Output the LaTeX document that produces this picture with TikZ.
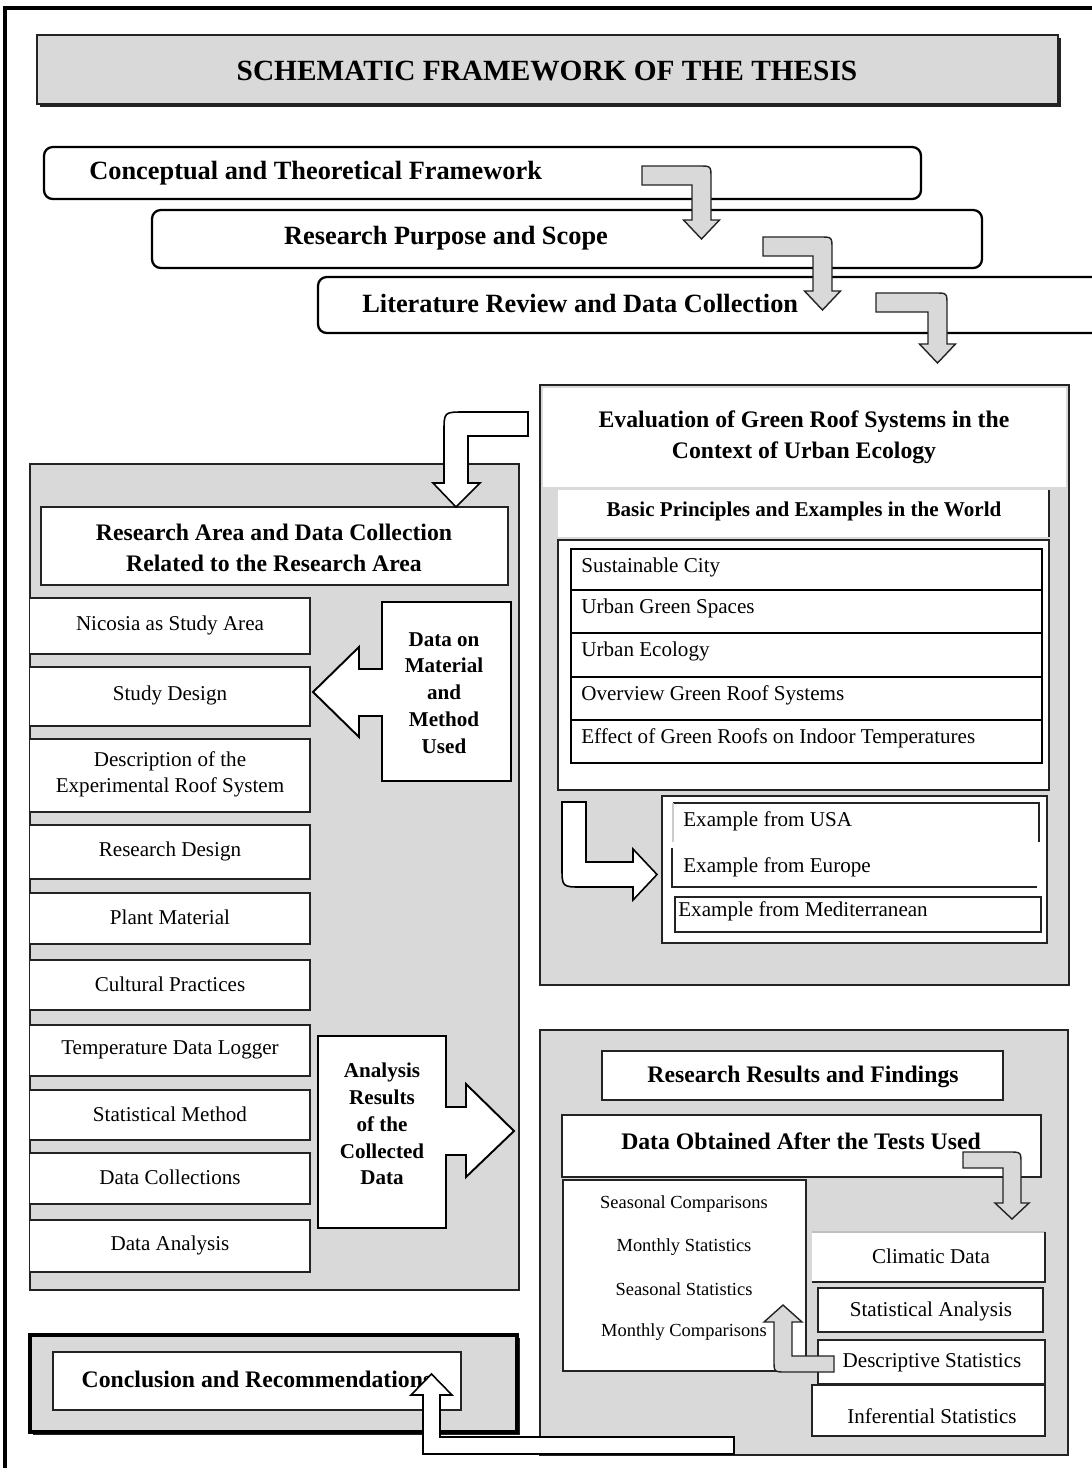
\documentclass[tikz,border=0pt]{standalone}
\usepackage{fontspec}
\setmainfont{Liberation Serif}
\definecolor{panelgray}{RGB}{217,217,217}
\definecolor{edge}{RGB}{35,35,35}

\begin{document}
\begin{tikzpicture}[x=0.02cm, y=-0.02cm,
        panel/.style={draw=edge, line width=1pt, fill=panelgray},
        wbox/.style={draw=edge, line width=0.8pt, fill=white},
        rowbox/.style={draw=black, line width=1.3pt, fill=white},
        headfont/.style={font=\fontsize{15}{18}\selectfont\bfseries, inner sep=0pt},
        subhead/.style={font=\fontsize{13.5}{17.5}\selectfont\bfseries, align=center, inner sep=0pt},
        callout/.style={font=\fontsize{12}{15.3}\selectfont\bfseries, align=center, inner sep=0pt},
        item/.style={font=\fontsize{12}{14.7}\selectfont, align=center, inner sep=0pt},
        small/.style={font=\fontsize{10.5}{12}\selectfont, inner sep=0pt},
        grayarrow/.style={draw=edge, line width=0.8pt, fill=panelgray},
        whitearrow/.style={draw=black, line width=0.9pt, fill=white}]

        \useasboundingbox (0,0) rectangle (1092,1468);
        \fill[white] (0,0) rectangle (1092,1468);
        \draw[line width=2.6pt] (5,8) rectangle (1130,1500);

        % title
        \fill[edge] (40,38) rectangle (1061,107);
        \draw[draw=edge, line width=1.3pt, fill=panelgray] (37,35) rectangle (1058,104);
        \node[font=\fontsize{16.7}{20}\selectfont\bfseries] (title) at (547,71) {SCHEMATIC FRAMEWORK OF THE THESIS};

        % stepped headings
        \draw[line width=1.3pt, rounded corners=5pt, fill=white] (44,147) rectangle (921,199);
        \node[headfont, anchor=west] (concept) at (89,173) {Conceptual and Theoretical Framework};
        \draw[line width=1.3pt, rounded corners=5pt, fill=white] (152,210) rectangle (982,268);
        \node[headfont] (purpose) at (446,238) {Research Purpose and Scope};
        \draw[line width=1.3pt, rounded corners=5pt, fill=white] (318,277) rectangle (1140,333);
        \node[headfont, anchor=west] (review) at (362,304) {Literature Review and Data Collection};

        \foreach \xa/\ya/\xr/\yt in {642/166/711/239, 763/237/832/310, 876/293/947/363} {
            \draw[grayarrow] (\xa,\ya) -- ({\xr-12},\ya) .. controls (\xr,\ya) .. (\xr,{\ya+12})
                -- (\xr,{\yt-19}) -- ({\xr+8.5},{\yt-19}) -- ({\xr-9.5},\yt) -- ({\xr-27.5},{\yt-19})
                -- ({\xr-19},{\yt-19}) -- ({\xr-19},{\ya+19}) -- (\xa,{\ya+19}) -- cycle;
        }

        % left panel
        \draw[panel] (30,464) rectangle (519,1290);
        \draw[wbox] (41,507) rectangle (508,585);
        \node[subhead] (area) at (274,548) {Research Area and Data Collection\\Related to the Research Area};
        \draw[whitearrow] (528,412) -- (464,412) .. controls (444,412) .. (444,432) -- (444,483)
            -- (433,483) -- (456,507) -- (480,483) -- (468,483) -- (468,436) -- (528,436) -- cycle;

        \foreach \name/\ya/\yb/\txt in {nicosia/598/654/{Nicosia as Study Area},
                studydesign/667/726/{Study Design},
                roofsystem/739/812/{Description of the\\Experimental Roof System},
                researchdesign/825/879/{Research Design},
                plants/893/944/{Plant Material},
                cultural/960/1010/{Cultural Practices},
                logger/1025/1076/{Temperature Data Logger},
                statmethod/1090/1140/{Statistical Method},
                collections/1153/1204/{Data Collections},
                dataanalysis/1220/1272/{Data Analysis}} {
            \fill[white] (30,\ya) rectangle (310,\yb);
            \draw[edge, line width=0.8pt] (30,\ya) -- (310,\ya) -- (310,\yb) -- (30,\yb);
            \node[item] (\name) at (170,{(\ya+\yb)/2-1}) {\txt};
        }

        \draw[whitearrow, line width=1.1pt] (511,602) -- (511,781) -- (382,781) -- (382,716) -- (359,716)
            -- (359,737) -- (313,692) -- (359,647) -- (359,669) -- (382,669) -- (382,602) -- cycle;
        \node[callout] (material) at (444,693) {Data on\\Material\\and\\Method\\Used};

        \draw[whitearrow, line width=1.1pt] (318,1036) -- (446,1036) -- (446,1107) -- (466,1107) -- (466,1084)
            -- (514,1131) -- (466,1177) -- (466,1155) -- (446,1155) -- (446,1228) -- (318,1228) -- cycle;
        \node[callout] (results) at (382,1124) {Analysis\\Results\\of the\\Collected\\Data};

        % evaluation panel
        \draw[panel, line width=1.3pt] (540,385) rectangle (1069,985);
        \fill[white] (543,388) rectangle (1066,487);
        \node[subhead] (evaluation) at (804,437) {Evaluation of Green Roof Systems in the\\Context of Urban Ecology};
        \fill[white] (558,490) rectangle (1049,537);
        \draw[edge, line width=1pt] (1049,490) -- (1049,537);
        \node[font=\fontsize{12}{14}\selectfont\bfseries, inner sep=0pt] (principles) at (804,511) {Basic Principles and Examples in the World};
        \draw[wbox] (558,540) rectangle (1049,790);
        \foreach \name/\ya/\yb/\txt in {city/549/590/{Sustainable City},
                greenspaces/590/633/{Urban Green Spaces},
                ecology/633/677/{Urban Ecology},
                overview/677/720/{Overview Green Roof Systems},
                indoor/720/763/{Effect of Green Roofs on Indoor Temperatures}} {
            \draw[rowbox] (571,\ya) rectangle (1042,\yb);
            \node[item, anchor=west] (\name) at (581,{\ya+18}) {\txt};
        }

        \draw[wbox] (662,796) rectangle (1047,943);
        \draw[edge, line width=0.8pt] (673,803) -- (1039,803) -- (1039,842);
        \draw[gray!40, line width=0.6pt] (673,803) -- (673,842);
        \node[item, anchor=west] (usa) at (683,821) {Example from USA};
        \draw[edge, line width=0.8pt] (672,848) -- (672,887) -- (1037,887);
        \node[item, anchor=west] (europe) at (683,867) {Example from Europe};
        \draw[edge, line width=0.8pt] (675,897) rectangle (1041,932);
        \node[item, anchor=west] (mediterranean) at (678,911) {Example from Mediterranean};
        \draw[whitearrow] (562,802) -- (586,802) -- (586,862) -- (633,862) -- (633,849) -- (657,874.5)
            -- (633,900) -- (633,887) -- (582,887) .. controls (562,887) .. (562,867) -- cycle;

        % results panel
        \draw[panel, line width=1.3pt] (540,1030) rectangle (1068,1455);
        \draw[wbox] (602,1051) rectangle (1003,1100);
        \node[subhead] (findings) at (803,1077) {Research Results and Findings};
        \draw[wbox] (562,1115) rectangle (1041,1177);
        \node[subhead] (obtained) at (801,1141) {Data Obtained After the Tests Used};
        \draw[grayarrow] (963,1152) -- (1009,1152) .. controls (1021,1152) .. (1021,1164) -- (1021,1203)
            -- (1029,1203) -- (1012,1219) -- (995,1203) -- (1003,1203) -- (1003,1168) -- (963,1168) -- cycle;

        \draw[wbox] (563,1180) rectangle (806,1371);
        \node[small] (seasoncomp) at (684,1204) {Seasonal Comparisons};
        \node[small] (monthstat) at (684,1247) {Monthly Statistics};
        \node[small] (seasonstat) at (684,1289) {Seasonal Statistics};
        \node[small] (monthcomp) at (684,1332) {Monthly Comparisons};

        \fill[white] (812,1232) rectangle (1045,1282);
        \draw[gray!50, line width=0.6pt] (812,1232) -- (1045,1232);
        \draw[edge, line width=0.8pt] (1045,1232) -- (1045,1282) -- (812,1282);
        \node[item] (climatic) at (931,1256) {Climatic Data};
        \draw[wbox] (818,1288) rectangle (1043,1332);
        \node[item] (statanalysis) at (931,1311) {Statistical Analysis};
        \draw[wbox] (818,1340) rectangle (1045,1384);
        \node[item] (descriptive) at (932,1363) {Descriptive Statistics};
        \draw[wbox] (812,1385) rectangle (1045,1436);
        \node[item] (inferential) at (932,1416) {Inferential Statistics};
        \draw[grayarrow] (834,1356) -- (792,1356) -- (792,1322) -- (802,1322) -- (783,1305) -- (764,1322)
            -- (774,1322) -- (774,1360) .. controls (774,1372) .. (786,1372) -- (834,1372) -- cycle;

        % conclusion
        \fill[edge] (33,1338) rectangle (520,1435);
        \draw[line width=1.8pt, fill=panelgray] (30,1335) rectangle (517,1432);
        \draw[wbox] (53,1352) rectangle (461,1410);
        \node[subhead] (conclusion) at (257,1379) {Conclusion and Recommendations};
        \draw[whitearrow] (734,1437) -- (440,1437) -- (440,1395) -- (452,1395) -- (431.5,1374) -- (411,1395)
            -- (423,1395) -- (423,1454) -- (734,1454) -- cycle;
    \end{tikzpicture}
\end{document}
